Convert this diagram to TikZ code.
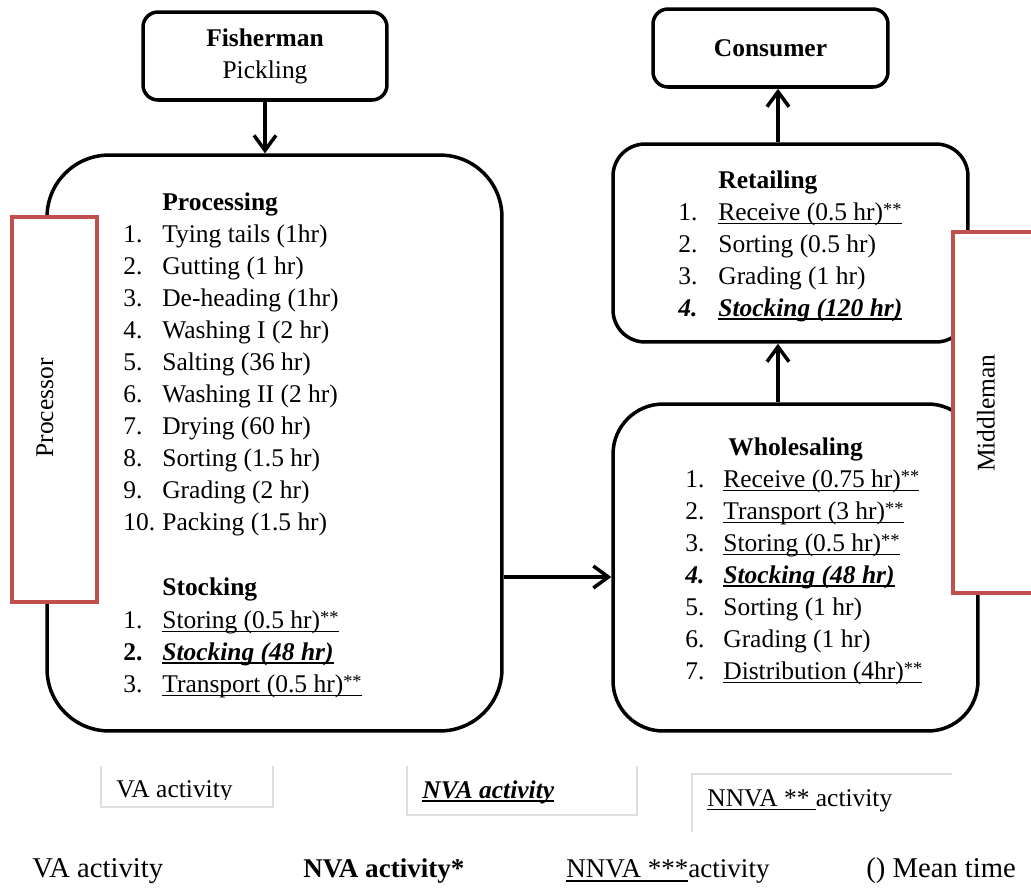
\documentclass[tikz,border=0pt]{standalone}
\usepackage{fontspec}
\setmainfont{Liberation Serif}
\usetikzlibrary{arrows.meta,positioning,calc}

\definecolor{actorred}{RGB}{192,80,77}
\definecolor{legendgray}{RGB}{222,222,222}
\newsavebox{\undrbox}
\newcommand{\undr}[2][0.06em]{\sbox{\undrbox}{#2}\rlap{\rule[-0.17em]{\wd\undrbox}{#1}}\usebox{\undrbox}}
\newcommand{\stars}{\raisebox{0.18em}{\fontsize{10.5pt}{10.5pt}\selectfont **}}
\newcommand{\nnva}[1]{\undr{#1\stars}}
\newcommand{\nva}[1]{\undr[0.08em]{\textbf{\textit{#1}}}}

\begin{document}
\begin{tikzpicture}[x=0.02cm,y=-0.02cm,
  every node/.style={font=\fontsize{14.5pt}{18.2pt}\selectfont,inner sep=0pt},
  stagebox/.style={draw,line width=2pt,rounded corners=#1},
  actorbox/.style={draw=actorred,line width=2pt,fill=white},
  item/.style={anchor=base west},
  legendtext/.style={anchor=base west,font=\fontsize{16.3pt}{18pt}\selectfont},
  flow/.style={line width=2pt,-{Straight Barb[length=3mm,width=4.4mm]}},
  legendline/.style={draw=legendgray,line width=0.8pt}]
\clip (0,0) rectangle (1031,890);
\fill[white] (0,0) rectangle (1031,890);

\node[stagebox=0.3cm,minimum width=4.88cm,minimum height=1.76cm,align=center] (fisher) at (265,56) {\textbf{Fisherman}\\Pickling};
\node[stagebox=0.3cm,minimum width=4.7cm,minimum height=1.56cm] (consumer) at (770.5,48) {\textbf{Consumer}};
\node[stagebox=1.24cm,minimum width=9.1cm,minimum height=11.52cm] (proc) at (274.5,443) {};
\node[stagebox=0.64cm,minimum width=7.1cm,minimum height=3.96cm] (retail) at (790.5,243) {};
\node[stagebox=1cm,minimum width=7.3cm,minimum height=6.54cm] (whole) at (795.5,567.5) {};

\node[actorbox,minimum width=1.7cm,minimum height=7.7cm] (processor) at (54.5,409.5) {};
\node[rotate=90] (processorlbl) at (45,408) {Processor};
\node[actorbox,minimum width=1.84cm,minimum height=7.22cm] (middleman) at (999,412.5) {};
\node[rotate=90] (middlemanlbl) at (986,413) {Middleman};

\coordinate (midrow) at (0,577);
\coordinate (upcol) at (778,0);
\draw[flow] (fisher.south) -- (fisher.south |- proc.north);
\draw[flow] (proc.east |- midrow) -- (whole.west |- midrow);
\draw[flow] (whole.north -| upcol) -- (retail.south -| upcol);
\draw[flow] (retail.north -| upcol) -- (consumer.south -| upcol);

\node[item] (prochead) at (162,210) {\textbf{Processing}};
\foreach \task [count=\i] in {Tying tails (1hr),Gutting (1 hr),De-heading (1hr),Washing I (2 hr),Salting (36 hr),Washing II (2 hr),Drying (60 hr),Sorting (1.5 hr),Grading (2 hr),Packing (1.5 hr)}{
  \node[item] (pn\i) at (123,210+32*\i) {\i.};
  \node[item] (pt\i) at (162,210+32*\i) {\task};
}
\node[item] (stockhead) at (162,595) {\textbf{Stocking}};
\foreach \n/\task [count=\i] in {1./\nnva{Storing (0.5 hr)},\textbf{2.}/\nva{Stocking (48 hr)},3./\nnva{Transport (0.5 hr)}}{
  \node[item] (sn\i) at (123,596+32*\i) {\n};
  \node[item] (st\i) at (162,596+32*\i) {\task};
}

\node[item] (retailhead) at (718,188) {\textbf{Retailing}};
\foreach \n/\task [count=\i] in {1./\nnva{Receive (0.5 hr)},2./Sorting (0.5 hr),3./Grading (1 hr),\textbf{\textit{4.}}/\nva{Stocking (120 hr)}}{
  \node[item] (rn\i) at (678,188+32*\i) {\n};
  \node[item] (rt\i) at (718,188+32*\i) {\task};
}

\node[item] (wholehead) at (728,455) {\textbf{Wholesaling}};
\foreach \n/\task [count=\i] in {1./\nnva{Receive (0.75 hr)},2./\nnva{Transport (3 hr)},3./\nnva{Storing (0.5 hr)},\textbf{\textit{4.}}/\nva{Stocking (48 hr)},5./Sorting (1 hr),6./Grading (1 hr),7./\nnva{Distribution (4hr)}}{
  \node[item] (wn\i) at (685,455+32*\i) {\n};
  \node[item] (wt\i) at (723,455+32*\i) {\task};
}

\draw[legendline] (101,766) -- (101,807) -- (273,807) -- (273,766);
\draw[legendline] (407,766) -- (407,815) -- (637,815) -- (637,766);
\draw[legendline] (692,832) -- (692,774) -- (952,774);
\begin{scope}
  \clip (101,766) rectangle (273,799);
  \node[item] (legva) at (116,797) {VA activity};
\end{scope}
\node[item] (legnva) at (422,798) {\nva{NVA activity}};
\node[item] (legnnva) at (707,806) {\undr{NNVA ** }activity};

\node[legendtext] (keyva) at (32,877) {VA activity};
\node[legendtext,font=\fontsize{15.4pt}{18pt}\selectfont] (keynva) at (303,877) {\textbf{NVA activity*}};
\node[legendtext,font=\fontsize{15.4pt}{18pt}\selectfont] (keynnva) at (566,877) {\undr{NNVA ***}activity};
\node[legendtext] (keytime) at (866,877) {() Mean time};
\end{tikzpicture}
\end{document}
